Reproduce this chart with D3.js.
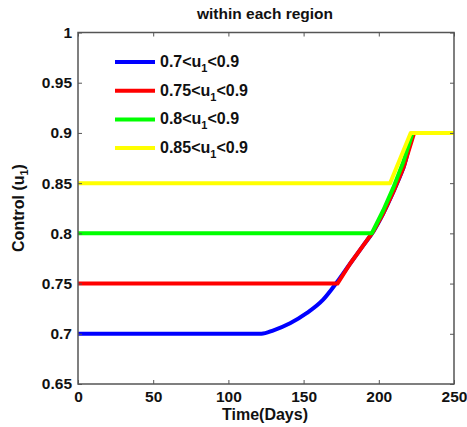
<!DOCTYPE html>
<html>
<head>
  <script src="https://d3js.org/d3.v7.min.js"></script>
  <style>
    body { margin: 0; background: #fff; }
    text { font-family: Arial, "Liberation Sans", sans-serif; font-weight: bold; }
  </style>
</head>
<body>
  <svg id="chart"></svg>
  <script>
    var width = 467, height = 427;
    var margin = {top: 32.5, right: 13, bottom: 43, left: 78};

    var xTicks = [0, 50, 100, 150, 200, 250];
    var yTicks = [0.65, 0.7, 0.75, 0.8, 0.85, 0.9, 0.95, 1];
    var yTickLabels = ["0.65", "0.7", "0.75", "0.8", "0.85", "0.9", "0.95", "1"];

    var names = ["0.7<u", "0.75<u", "0.8<u", "0.85<u"];
    var colors = ["#0000ff", "#ff0000", "#00ff00", "#ffff00"];

    var blue = [[0, 0.7], [122, 0.7], [130, 0.7035], [141, 0.7105], [152, 0.7205], [163, 0.734],
                [172, 0.751], [181, 0.770], [189.7, 0.788], [196.4, 0.802], [203, 0.820],
                [209.7, 0.8415], [216.3, 0.865], [224, 0.9], [250, 0.9]];
    var red = [[0, 0.75], [172.5, 0.75], [181, 0.770], [189.7, 0.788], [196.4, 0.802], [203, 0.820],
               [209.7, 0.8415], [216.3, 0.865], [223.5, 0.9], [250, 0.9]];
    var green = [[0, 0.8], [195.3, 0.8], [203, 0.823], [209.5, 0.845], [216, 0.87], [222.5, 0.9], [250, 0.9]];
    var yellow = [[0, 0.85], [207.5, 0.85], [221.2, 0.9], [250, 0.9]];
    var series = [blue, red, green, yellow];

    var svg = d3.select("#chart").attr("width", width).attr("height", height);

    var x = d3.scaleLinear().domain([0, 250]).range([margin.left, width - margin.right]);
    var y = d3.scaleLinear().domain([0.65, 1]).range([height - margin.bottom, margin.top]);

    var smooth = d3.line()
      .curve(d3.curveMonotoneX)
      .x(function(d) { return x(d[0]); })
      .y(function(d) { return y(d[1]); });
    var straight = d3.line()
      .x(function(d) { return x(d[0]); })
      .y(function(d) { return y(d[1]); });

    svg.selectAll(".series")
      .data(series)
      .enter().append("path")
      .attr("class", "series")
      .attr("d", function(d, i) { return i === 0 ? smooth(d) : straight(d); })
      .attr("fill", "none")
      .attr("stroke", function(d, i) { return colors[i]; })
      .attr("stroke-width", 4)
      .attr("stroke-linejoin", "round");

    // box + inward ticks
    var axisColor = "#555";
    svg.append("rect")
      .attr("x", x(0)).attr("y", y(1))
      .attr("width", x(250) - x(0)).attr("height", y(0.65) - y(1))
      .attr("fill", "none").attr("stroke", axisColor).attr("stroke-width", 1.5);

    var xAxis = svg.append("g").attr("transform", "translate(0," + y(0.65) + ")")
      .call(d3.axisBottom(x).tickValues(xTicks).tickSizeInner(-4).tickSizeOuter(0).tickPadding(7));
    var xTop = svg.append("g").attr("transform", "translate(0," + y(1) + ")")
      .call(d3.axisTop(x).tickValues(xTicks).tickSizeInner(-4).tickSizeOuter(0).tickFormat(""));
    var yAxis = svg.append("g").attr("transform", "translate(" + x(0) + ",0)")
      .call(d3.axisLeft(y).tickValues(yTicks).tickSizeInner(-4).tickSizeOuter(0).tickPadding(6)
        .tickFormat(function(d, i) { return yTickLabels[i]; }));
    var yRight = svg.append("g").attr("transform", "translate(" + x(250) + ",0)")
      .call(d3.axisRight(y).tickValues(yTicks).tickSizeInner(-4).tickSizeOuter(0).tickFormat(""));

    [xAxis, xTop, yAxis, yRight].forEach(function(g) {
      g.select(".domain").remove();
      g.selectAll("line").attr("stroke", axisColor);
      g.selectAll("text").attr("fill", "#111").style("font-size", "15.5px")
        .style("font-family", "Arial, 'Liberation Sans', sans-serif").style("font-weight", "bold");
    });

    svg.append("text")
      .attr("x", 265).attr("y", 19)
      .attr("text-anchor", "middle")
      .style("font-size", "15.5px")
      .attr("fill", "#111")
      .text("within each region");

    svg.append("text")
      .attr("x", 265).attr("y", 420)
      .attr("text-anchor", "middle")
      .style("font-size", "16px")
      .attr("fill", "#111")
      .text("Time(Days)");

    var ylab = svg.append("text")
      .attr("transform", "translate(24," + 208 + ") rotate(-90)")
      .attr("text-anchor", "middle")
      .style("font-size", "16px")
      .attr("fill", "#111");
    ylab.append("tspan").text("Control (u");
    ylab.append("tspan").attr("dy", 4).style("font-size", "11px").text("1");
    ylab.append("tspan").attr("dy", -4).text(")");

    // legend
    var legend = svg.append("g");
    var rows = legend.selectAll("g")
      .data(names)
      .enter().append("g")
      .attr("transform", function(d, i) { return "translate(115," + (62 + i * 28.7) + ")"; });
    rows.append("line")
      .attr("x1", 0).attr("x2", 40)
      .attr("stroke", function(d, i) { return colors[i]; })
      .attr("stroke-width", 4);
    var lt = rows.append("text")
      .attr("x", 45).attr("y", 5)
      .style("font-size", "16px")
      .attr("fill", "#111");
    lt.append("tspan").text(function(d) { return d; });
    lt.append("tspan").attr("dy", 5).style("font-size", "11px").text("1");
    lt.append("tspan").attr("dy", -5).text("<0.9");
  </script>
</body>
</html>
